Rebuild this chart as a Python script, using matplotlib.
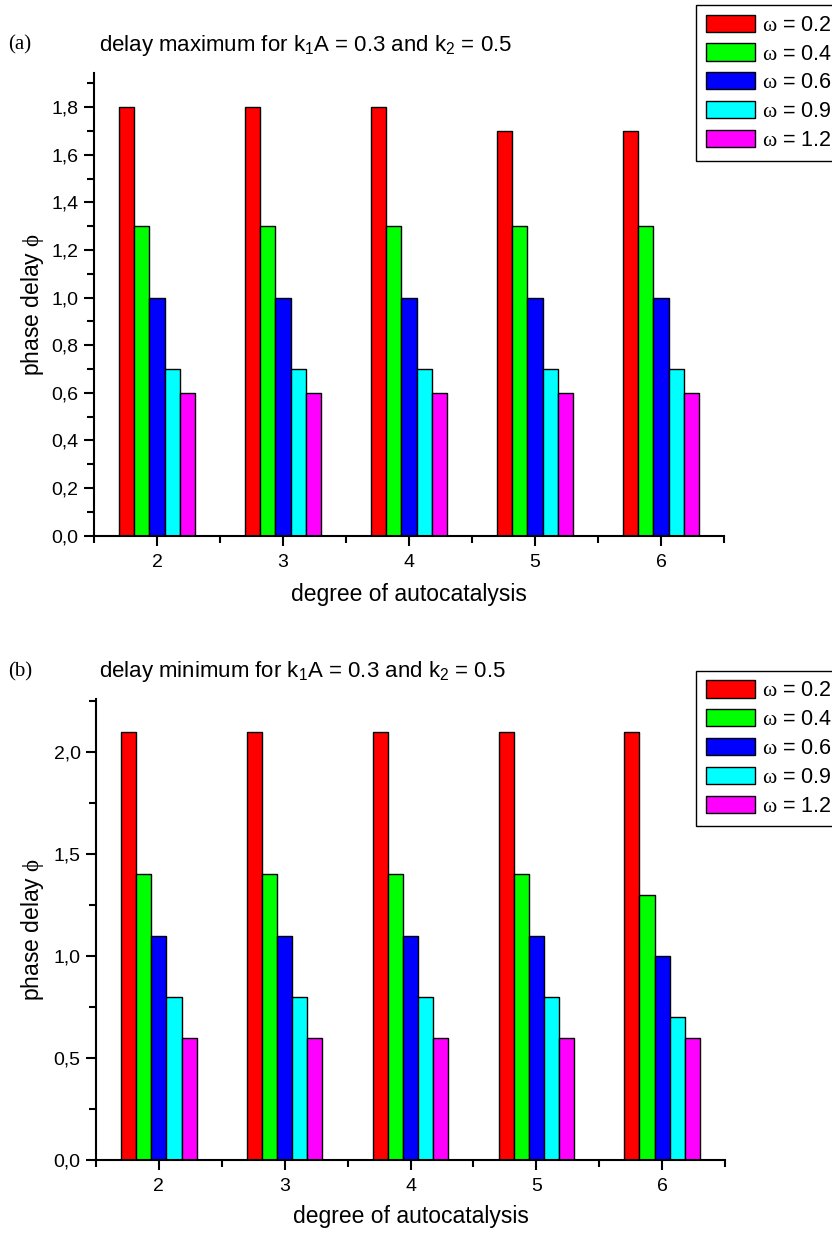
import numpy as np
import matplotlib
matplotlib.use('Agg')
import matplotlib.pyplot as plt
from matplotlib.ticker import MultipleLocator, FuncFormatter

plt.rcParams['font.family'] = ['Liberation Sans', 'DejaVu Sans']
plt.rcParams['mathtext.fontset'] = 'custom'
plt.rcParams['mathtext.rm'] = 'Liberation Serif'
plt.rcParams['mathtext.sf'] = 'Liberation Sans'
plt.rcParams['mathtext.it'] = 'Liberation Serif:italic'

# data
degree = [2, 3, 4, 5, 6]
omegas = ['0.2', '0.4', '0.6', '0.9', '1.2']
colors = ['#ff0000', '#00ff00', '#0000ff', '#00ffff', '#ff00ff']

delay_max = [
    [1.8, 1.8, 1.8, 1.7, 1.7],
    [1.3, 1.3, 1.3, 1.3, 1.3],
    [1.0, 1.0, 1.0, 1.0, 1.0],
    [0.7, 0.7, 0.7, 0.7, 0.7],
    [0.6, 0.6, 0.6, 0.6, 0.6],
]
delay_min = [
    [2.1, 2.1, 2.1, 2.1, 2.1],
    [1.4, 1.4, 1.4, 1.4, 1.3],
    [1.1, 1.1, 1.1, 1.1, 1.0],
    [0.8, 0.8, 0.8, 0.8, 0.7],
    [0.6, 0.6, 0.6, 0.6, 0.6],
]

W, H = 832, 1233
fig = plt.figure(figsize=(W / 100, H / 100), dpi=100)

def px(x, y):
    return x / W, 1 - y / H

comma = FuncFormatter(lambda v, p: ('%.1f' % v).replace('.', ','))

def panel(rect, data, ytop, major, minor, title, letter, title_y, xlabel_y, leg_top):
    ax = fig.add_axes(rect)
    x = np.array(degree, dtype=float)
    bw = 0.12
    for i, (vals, c, w) in enumerate(zip(data, colors, omegas)):
        ax.bar(x + (i - 2) * bw, vals, width=bw, color=c, edgecolor='black',
               linewidth=1.0, label=r'$\mathrm{\omega}$ = ' + w)
    ax.set_xlim(1.5, 6.5)
    ax.set_ylim(0, ytop)
    ax.spines['top'].set_visible(False)
    ax.spines['right'].set_visible(False)
    for s in ('left', 'bottom'):
        ax.spines[s].set_linewidth(1.5)
    ax.xaxis.set_major_locator(MultipleLocator(1))
    ax.xaxis.set_minor_locator(MultipleLocator(0.5))
    ax.yaxis.set_major_locator(MultipleLocator(major))
    ax.yaxis.set_minor_locator(MultipleLocator(minor))
    ax.yaxis.set_major_formatter(comma)
    ax.tick_params(which='major', length=7, width=1.5, labelsize=14, direction='out')
    ax.tick_params(which='minor', length=5, width=1.5, direction='out')
    ax.tick_params(axis='x', pad=6)
    ax.tick_params(axis='y', pad=4)

    fig.text(*px(99, title_y), title, fontsize=16, va='center', ha='left')
    fig.text(*px(8, title_y), letter, fontsize=15, va='center', ha='left',
             family='Liberation Serif')
    cx = rect[0] + rect[2] / 2
    fig.text(cx, 1 - xlabel_y / H, 'degree of autocatalysis', fontsize=16.5,
             ha='center', va='center')
    cy = rect[1] + rect[3] / 2
    fig.text(33 / W, cy, r'phase delay $\mathrm{\phi}$', fontsize=16.5,
             ha='center', va='center', rotation=90)

    leg = ax.legend(loc='upper left', bbox_to_anchor=px(696, leg_top),
                    bbox_transform=fig.transFigure, borderaxespad=0,
                    fontsize=15.5, handlelength=2.3, handleheight=0.85,
                    handletextpad=0.3, labelspacing=0.36, borderpad=0.45,
                    fancybox=False, framealpha=1)
    leg.get_frame().set_edgecolor('black')
    leg.get_frame().set_linewidth(1.0)
    return ax

panel([94 / W, 1 - 535.7 / H, 630 / W, (535.7 - 72.7) / H], delay_max, 1.945,
      0.2, 0.1, r'delay maximum for k$_{\mathsf{1}}$A = 0.3 and k$_{\mathsf{2}}$ = 0.5',
      '(a)', 45, 595, 5)
panel([96 / W, 1 - 1160 / H, 629 / W, (1160 - 699) / H], delay_min, 2.26,
      0.5, 0.25, r'delay minimum for k$_{\mathsf{1}}$A = 0.3 and k$_{\mathsf{2}}$ = 0.5',
      '(b)', 672, 1217, 670.7)

fig.savefig('out.png', dpi=100)
